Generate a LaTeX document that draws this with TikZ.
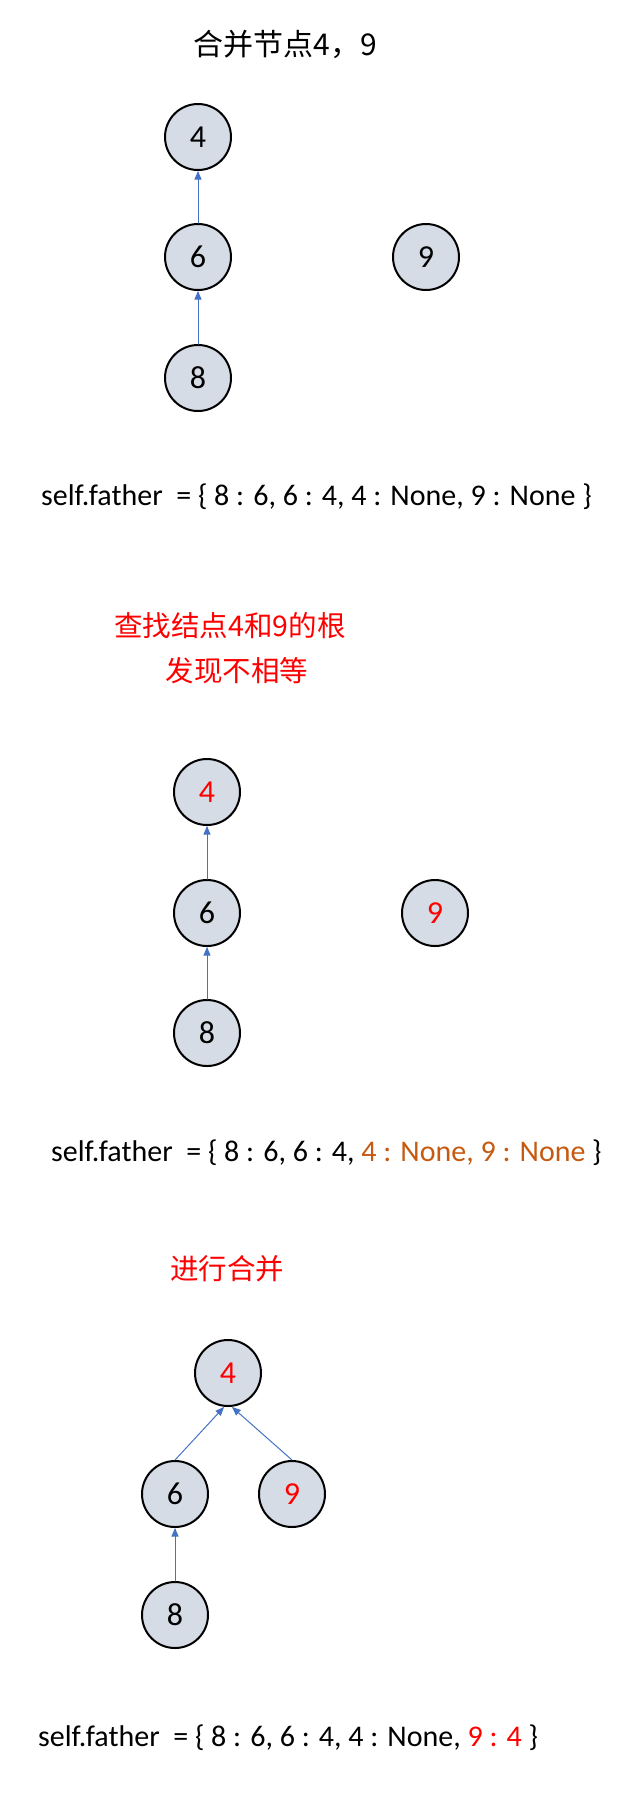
\documentclass[tikz,border=0pt]{standalone}
\usepackage{fontspec}
\setmainfont{Carlito}
\newfontfamily\cjk{Noto Sans CJK SC}
\usetikzlibrary{arrows}
\definecolor{nodefill}{HTML}{D6DCE5}
\definecolor{linkblue}{HTML}{4472C4}
\definecolor{rootbrown}{HTML}{C55A11}

\begin{document}
\begin{tikzpicture}[line cap=round,line join=round,>=triangle 45,x=1pt,y=-1pt,
    op/.style={circle, draw, line width=2pt, fill=nodefill, minimum size=66pt, inner sep=0pt, font=\fontsize{32}{38}\selectfont},
    link/.style={->, draw=linkblue, line width=1pt},
    dict/.style={anchor=base west, inner sep=0pt, font=\fontsize{30}{36}\selectfont},
    note/.style={text=red, font=\cjk\fontsize{28.5}{34}\selectfont}]
                    \useasboundingbox (0,0) rectangle (631,1797);

                    \node[font=\cjk\fontsize{30}{36}\selectfont] (title) at (285,44) {合并节点4，9};

                    \node[op] (a4) at (198,137) {4};
                    \node[op] (a6) at (198,257) {6};
                    \node[op] (a8) at (198,378) {8};
                    \node[op] (a9) at (426,257) {9};
                    \draw [link] (a8) -- (a6);
                    \draw [link] (a6) -- (a4);

                    \node[dict] (d1) at (41,505) {self.father\ \ = \{ 8 : 6, 6 : 4, 4 : None, 9 : None \}};

                    \node[note] (n1) at (230,626) {查找结点4和9的根};
                    \node[note] (n2) at (237,671) {发现不相等};

                    \node[op, text=red] (b4) at (207,792) {4};
                    \node[op] (b6) at (207,913) {6};
                    \node[op] (b8) at (207,1033) {8};
                    \node[op, text=red] (b9) at (435,913) {9};
                    \draw [link] (b8) -- (b6);
                    \draw [link] (b6) -- (b4);

                    \node[dict] (d2) at (51,1161) {self.father\ \ = \{ 8 : 6, 6 : 4, {\color{rootbrown}4 : None, 9 : None} \}};

                    \node[note] (n3) at (227,1269) {进行合并};

                    \node[op, text=red] (c4) at (228,1373) {4};
                    \node[op] (c6) at (175,1494) {6};
                    \node[op] (c8) at (175,1615) {8};
                    \node[op, text=red] (c9) at (292,1494) {9};
                    \draw [link] (c8) -- (c6);
                    \draw [link] (c6.north) -- ([xshift=-4pt]c4.south);
                    \draw [link] (c9.north) -- ([xshift=4pt]c4.south);

                    \node[dict] (d3) at (38,1746) {self.father\ \ = \{ 8 : 6, 6 : 4, 4 : None, {\color{red}9 : 4} \}};
                \end{tikzpicture}
\end{document}
